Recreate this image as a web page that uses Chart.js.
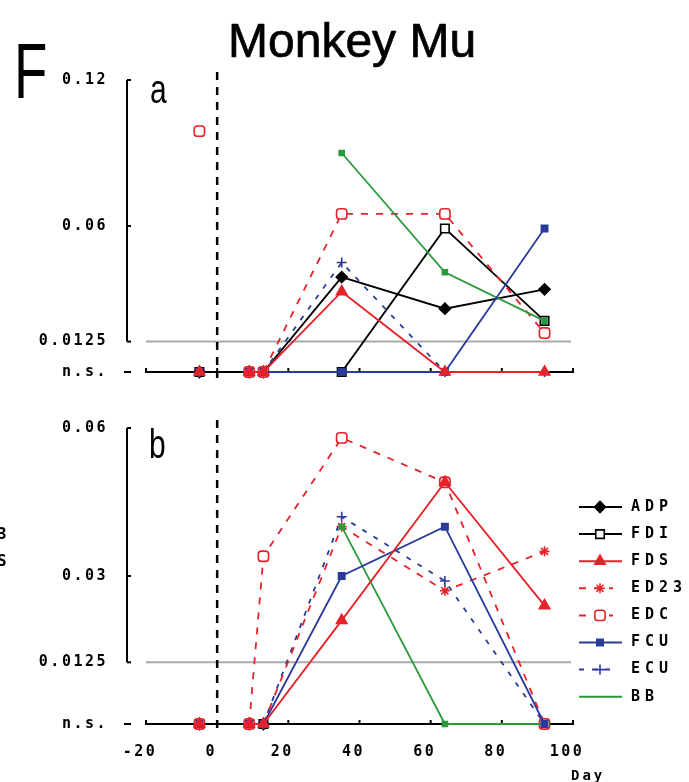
<!DOCTYPE html>
<html>
<head>
<meta charset="utf-8">
<script src="https://cdn.jsdelivr.net/npm/chart.js@4.4.1/dist/chart.umd.min.js"></script>
<style>
  html, body { margin: 0; padding: 0; background: #fff; }
  #wrap { position: relative; width: 689px; height: 782px; overflow: hidden; }
  canvas { position: absolute; left: 0; }
  #cA { top: 0; }
  #cB { top: 400px; }
  .txt { position: absolute; white-space: nowrap; line-height: 1; color: #000; }
  .sans { font-family: "Liberation Sans", Arial, sans-serif; }
  .pix { font-family: "DejaVu Sans Mono", monospace; font-weight: bold; }
  .narrow { transform: scaleX(0.75); transform-origin: left top; }
  .slim { transform: scaleX(0.7); transform-origin: left top; }
  .heavy { -webkit-text-stroke: 0.7px #000; }
</style>
</head>
<body>
<div id="wrap">
  <canvas id="cA" width="689" height="400"></canvas>
  <canvas id="cB" width="689" height="382"></canvas>
  <div class="txt sans slim" style="left:14px;top:32px;font-size:78px;">F</div>
  <div class="txt sans heavy" style="left:228px;top:17px;font-size:48px;">Monkey Mu</div>
  <div class="txt sans narrow" style="left:150px;top:69px;font-size:40px;">a</div>
  <div class="txt sans narrow" style="left:149px;top:424px;font-size:40px;">b</div>
  <div class="txt pix" style="left:-3px;top:526px;font-size:16px;">3</div>
  <div class="txt pix" style="left:-3px;top:553px;font-size:16px;">S</div>
  <div class="txt pix" style="left:571px;top:768px;font-size:14px;letter-spacing:3px;">Day</div>
</div>
<script>
// days after lesion (x positions of the samples)
const DAYS = [-5, 9, 13, 35, 64, 92];
const X_TICKS = [-20, 0, 20, 40, 60, 80, 100];
const SERIES = ["ADP", "FDI", "FDS", "ED23", "EDC", "FCU", "ECU", "BB"];
const THRESH = 0.0125;

// panel a
const A_TICKS = [0, 0.0125, 0.06, 0.12];
const A_TICK_LABELS = ["n.s.", "0.0125", "0.06", "0.12"];
const A_ADP  = [0, 0, 0, 0.039, 0.026, 0.034];
const A_FDI  = [0, 0, 0, 0, 0.059, 0.021];
const A_FDS  = [0, 0, 0, 0.033, 0, 0];
const A_ED23 = [0, 0, 0, null, null, null];
const A_EDC  = [0.099, 0, 0, 0.065, 0.065, 0.016];
const A_FCU  = [0, 0, 0, 0, 0, 0.059];
const A_ECU  = [0, 0, 0, 0.045, 0, 0];
const A_BB   = [0, null, null, 0.090, 0.041, 0.021];

// panel b
const B_TICKS = [0, 0.0125, 0.03, 0.06];
const B_TICK_LABELS = ["n.s.", "0.0125", "0.03", "0.06"];
const B_ADP  = [0, 0, 0, null, null, null];
const B_FDI  = [0, 0, 0, null, null, null];
const B_FDS  = [0, 0, 0, 0.021, 0.049, 0.024];
const B_ED23 = [0, 0, 0, 0.040, 0.027, 0.035];
const B_EDC  = [0, 0, 0.034, 0.058, 0.049, 0];
const B_FCU  = [0, 0, 0, 0.030, 0.040, 0];
const B_ECU  = [0, 0, 0, 0.042, 0.029, 0];
const B_BB   = [0, null, null, 0.040, 0, 0];

const RED = "#e62229", BLUE = "#2b3b9c", GREEN = "#2a9a3c", BLACK = "#000000";
const STYLE = {
  ADP:  { color: BLACK, dash: [], point: "rectRot", r: 5.5, fill: BLACK, order: 2 },
  FDI:  { color: BLACK, dash: [], point: "rect", r: 6, fill: "#ffffff", order: 2 },
  FDS:  { color: RED, dash: [], point: "triangle", r: 6, fill: RED, order: 0 },
  ED23: { color: RED, dash: [7, 8], point: "star", r: 5, fill: RED, order: 1 },
  EDC:  { color: RED, dash: [7, 8], point: "rectRounded", r: 6, fill: "#ffffff", order: 1 },
  FCU:  { color: BLUE, dash: [], point: "rect", r: 4.5, fill: BLUE, order: 0 },
  ECU:  { color: BLUE, dash: [5, 8], point: "cross", r: 5, fill: BLUE, order: 1 },
  BB:   { color: GREEN, dash: [], point: "rect", r: 3.5, fill: GREEN, order: 0, noLegendPoint: true },
};

const PIX_FONT = "DejaVu Sans Mono";

function makeDatasets(values) {
  return SERIES.map((name, i) => {
    const s = STYLE[name];
    return {
      label: name,
      data: DAYS.map((d, j) => ({ x: d, y: values[i][j] })),
      borderColor: s.color,
      backgroundColor: s.color,
      borderWidth: 1.8,
      borderDash: s.dash,
      pointStyle: s.point,
      pointRadius: s.r,
      pointBackgroundColor: s.fill,
      pointBorderColor: s.color,
      pointBorderWidth: 1.6,
      order: s.order,
      tension: 0,
      spanGaps: false,
      clip: false,
      // pre-lesion sample is not joined to the post-lesion ones
      segment: { borderColor: (ctx) => (ctx.p0DataIndex === 0 ? "rgba(0,0,0,0)" : undefined) },
    };
  });
}

const decor = {
  id: "decor",
  beforeDraw(chart) {
    chart.ctx.letterSpacing = "2.5px";
  },
  beforeDatasetsDraw(chart) {
    const { ctx, chartArea: ca } = chart;
    const xs = chart.scales.x, ys = chart.scales.y;
    ctx.save();
    ctx.letterSpacing = "0px";
    // threshold line
    const yt = ys.getPixelForValue(THRESH);
    ctx.strokeStyle = "#aaaaaa";
    ctx.lineWidth = 2;
    ctx.beginPath();
    ctx.moveTo(ca.left, yt);
    ctx.lineTo(ca.right - 2, yt);
    ctx.stroke();
    // lesion day
    const x0 = xs.getPixelForValue(0);
    ctx.strokeStyle = BLACK;
    ctx.lineWidth = 2.5;
    ctx.setLineDash([8, 7]);
    ctx.beginPath();
    ctx.moveTo(x0, ca.top - 8);
    ctx.lineTo(x0, ca.bottom + 6);
    ctx.stroke();
    ctx.setLineDash([]);
    // y bracket axis
    const ax = ca.left - 19;
    ctx.lineWidth = 2;
    ctx.beginPath();
    ctx.moveTo(ax, ys.getPixelForValue(ys.max));
    ctx.lineTo(ax, yt);
    ctx.stroke();
    ys.ticks.forEach((t) => {
      const y = ys.getPixelForValue(t.value);
      ctx.beginPath();
      ctx.moveTo(t.value === 0 ? ax - 3 : ax, y);
      ctx.lineTo(ax + 4, y);
      ctx.stroke();
    });
    // x ticks pointing up
    xs.ticks.forEach((t) => {
      const x = xs.getPixelForValue(t.value);
      ctx.beginPath();
      ctx.moveTo(x, ca.bottom);
      ctx.lineTo(x, ca.bottom - 4);
      ctx.stroke();
    });
    ctx.restore();
  },
  afterDraw(chart, args, opts) {
    if (!opts.legend) return;
    const { ctx, chartArea: ca } = chart;
    const x0 = ca.right + 6;
    chart.data.datasets.forEach((ds, i) => {
      const s = STYLE[ds.label];
      const y = opts.legendY + i * opts.legendStep;
      ctx.save();
      ctx.strokeStyle = s.color;
      ctx.lineWidth = 2;
      ctx.setLineDash(s.dash);
      ctx.beginPath();
      ctx.moveTo(x0, y);
      ctx.lineTo(s.dash.length ? x0 + 34 : x0 + 43, y);
      ctx.stroke();
      ctx.setLineDash([]);
      if (!s.noLegendPoint) {
        ctx.fillStyle = s.fill;
        ctx.lineWidth = 1.6;
        Chart.helpers.drawPoint(ctx, { pointStyle: s.point, radius: s.r, rotation: 0, borderWidth: 1.6 }, x0 + 21, y);
      }
      ctx.fillStyle = BLACK;
      ctx.font = "bold 15px '" + PIX_FONT + "'";
      ctx.letterSpacing = "5px";
      ctx.textAlign = "left";
      ctx.textBaseline = "middle";
      ctx.fillText(ds.label, x0 + 52, y);
      ctx.restore();
    });
  },
};

function makePanel(canvas, values, yTicks, yLabels, cfg) {
  return new Chart(canvas, {
    type: "line",
    data: { datasets: makeDatasets(values) },
    plugins: [decor],
    options: {
      responsive: false,
      animation: false,
      events: [],
      layout: { padding: { left: 0, right: 116, top: cfg.top, bottom: 0 } },
      plugins: {
        legend: { display: false },
        tooltip: { enabled: false },
        decor: cfg.decor,
      },
      scales: {
        x: {
          type: "linear",
          min: -20,
          max: 100,
          afterBuildTicks: (s) => { s.ticks = X_TICKS.map((v) => ({ value: v })); },
          afterFit: (s) => { s.height = cfg.xHeight; },
          grid: { display: false, drawTicks: true, tickLength: 17 },
          border: { display: true, color: BLACK, width: 2 },
          ticks: {
            display: cfg.xLabels,
            color: BLACK,
            font: { family: PIX_FONT, size: 15, weight: "bold" },
            padding: 2,
            labelOffset: -6,
            maxRotation: 0,
            autoSkip: false,
          },
        },
        y: {
          type: "linear",
          min: 0,
          max: yTicks[yTicks.length - 1],
          afterBuildTicks: (s) => { s.ticks = yTicks.map((v) => ({ value: v })); },
          afterFit: (s) => { s.width = 146; },
          // tickLength only pushes the labels out, the bracket is drawn by decor
          grid: { display: false, drawTicks: true, tickLength: 36 },
          border: { display: false },
          ticks: {
            color: BLACK,
            font: { family: PIX_FONT, size: 15, weight: "bold" },
            padding: 2,
            autoSkip: false,
            callback: (v) => yLabels[yTicks.indexOf(v)],
          },
        },
      },
    },
  });
}

makePanel(document.getElementById("cA"),
  [A_ADP, A_FDI, A_FDS, A_ED23, A_EDC, A_FCU, A_ECU, A_BB],
  A_TICKS, A_TICK_LABELS,
  { top: 80, xHeight: 28, xLabels: false, decor: { legend: false } });

makePanel(document.getElementById("cB"),
  [B_ADP, B_FDI, B_FDS, B_ED23, B_EDC, B_FCU, B_ECU, B_BB],
  B_TICKS, B_TICK_LABELS,
  { top: 28, xHeight: 58, xLabels: true, decor: { legend: true, legendY: 107, legendStep: 27.1 } });
</script>
</body>
</html>
